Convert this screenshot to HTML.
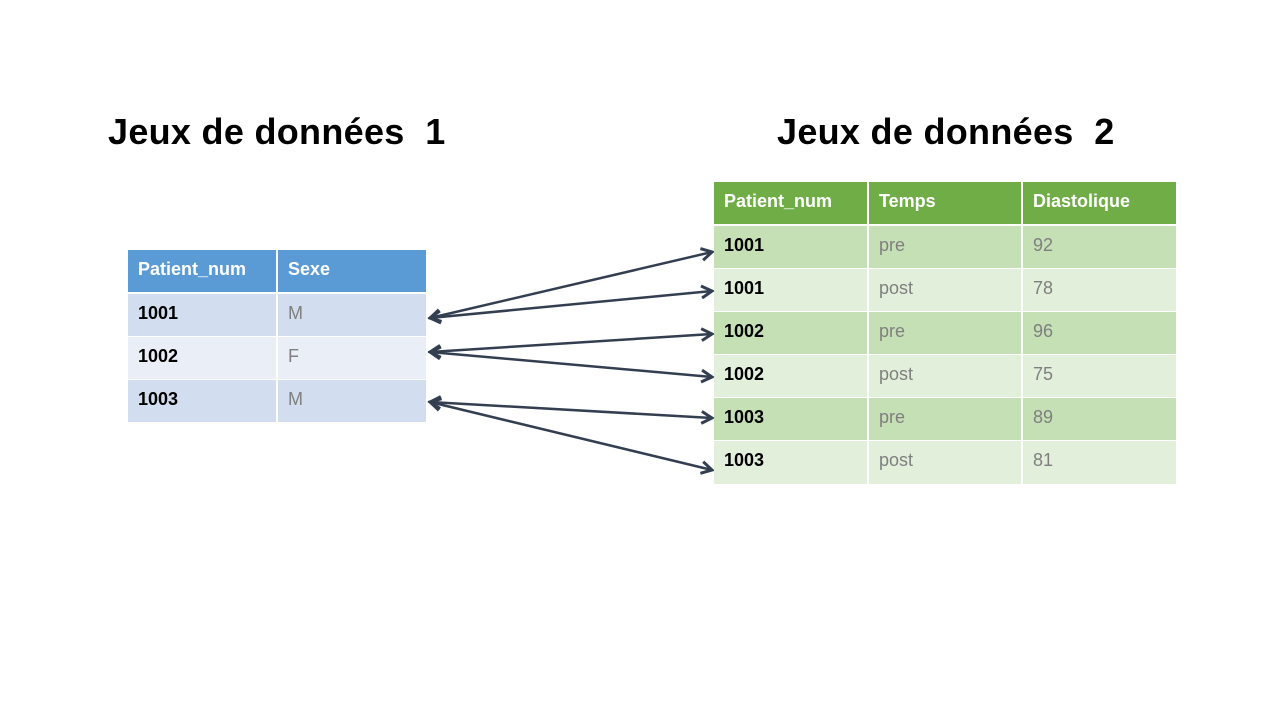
<!DOCTYPE html>
<html><head><meta charset="utf-8"><style>
body{margin:0;width:1280px;height:720px;background:#fff;position:relative;overflow:hidden;font-family:"Liberation Sans",sans-serif}
.t{position:absolute;font-weight:bold;font-size:36px;color:#000;top:111px;letter-spacing:0.3px}
.c{position:absolute;box-sizing:border-box;padding-left:10px;padding-bottom:4px;font-size:18px;display:flex;align-items:center;color:#7f7f7f}
.b{font-weight:bold;color:#000}
.h{font-weight:bold;color:#fff}
</style></head><body>
<div class="t" style="left:108px">Jeux de données&nbsp; 1</div>
<div class="t" style="left:777px">Jeux de données&nbsp; 2</div>

<div class="c h" style="left:128px;top:250px;width:148px;height:42px;background:#5B9BD5">Patient_num</div>
<div class="c h" style="left:278px;top:250px;width:148px;height:42px;background:#5B9BD5">Sexe</div>
<div class="c b" style="left:128px;top:294px;width:148px;height:42px;background:#D2DEEF">1001</div>
<div class="c" style="left:278px;top:294px;width:148px;height:42px;background:#D2DEEF">M</div>
<div class="c b" style="left:128px;top:337px;width:148px;height:42px;background:#EAEFF7">1002</div>
<div class="c" style="left:278px;top:337px;width:148px;height:42px;background:#EAEFF7">F</div>
<div class="c b" style="left:128px;top:380px;width:148px;height:42px;background:#D2DEEF">1003</div>
<div class="c" style="left:278px;top:380px;width:148px;height:42px;background:#D2DEEF">M</div>

<div class="c h" style="left:714px;top:182px;width:153px;height:42px;background:#70AD47">Patient_num</div>
<div class="c h" style="left:869px;top:182px;width:152px;height:42px;background:#70AD47">Temps</div>
<div class="c h" style="left:1023px;top:182px;width:153px;height:42px;background:#70AD47">Diastolique</div>

<div class="c b" style="left:714px;top:226px;width:153px;height:42px;background:#C5E0B4">1001</div>
<div class="c" style="left:869px;top:226px;width:152px;height:42px;background:#C5E0B4">pre</div>
<div class="c" style="left:1023px;top:226px;width:153px;height:42px;background:#C5E0B4">92</div>

<div class="c b" style="left:714px;top:269px;width:153px;height:42px;background:#E2EFDA">1001</div>
<div class="c" style="left:869px;top:269px;width:152px;height:42px;background:#E2EFDA">post</div>
<div class="c" style="left:1023px;top:269px;width:153px;height:42px;background:#E2EFDA">78</div>

<div class="c b" style="left:714px;top:312px;width:153px;height:42px;background:#C5E0B4">1002</div>
<div class="c" style="left:869px;top:312px;width:152px;height:42px;background:#C5E0B4">pre</div>
<div class="c" style="left:1023px;top:312px;width:153px;height:42px;background:#C5E0B4">96</div>

<div class="c b" style="left:714px;top:355px;width:153px;height:42px;background:#E2EFDA">1002</div>
<div class="c" style="left:869px;top:355px;width:152px;height:42px;background:#E2EFDA">post</div>
<div class="c" style="left:1023px;top:355px;width:153px;height:42px;background:#E2EFDA">75</div>

<div class="c b" style="left:714px;top:398px;width:153px;height:42px;background:#C5E0B4">1003</div>
<div class="c" style="left:869px;top:398px;width:152px;height:42px;background:#C5E0B4">pre</div>
<div class="c" style="left:1023px;top:398px;width:153px;height:42px;background:#C5E0B4">89</div>

<div class="c b" style="left:714px;top:441px;width:153px;height:43px;background:#E2EFDA">1003</div>
<div class="c" style="left:869px;top:441px;width:152px;height:43px;background:#E2EFDA">post</div>
<div class="c" style="left:1023px;top:441px;width:153px;height:43px;background:#E2EFDA">81</div>

<svg style="position:absolute;left:0;top:0" width="1280" height="720">
<defs>
<marker id="a" viewBox="0 0 10 10" refX="8.5" refY="5" markerWidth="6" markerHeight="6" orient="auto-start-reverse" markerUnits="strokeWidth">
<path d="M1.5,1 L8.5,5 L1.5,9" fill="none" stroke="#333F50" stroke-width="2"/>
</marker>
</defs>
<g stroke="#333F50" stroke-width="2.5" fill="none" marker-start="url(#a)" marker-end="url(#a)">
<line x1="430" y1="318" x2="712" y2="252"/>
<line x1="430" y1="318" x2="712" y2="291"/>
<line x1="430" y1="352" x2="712" y2="334"/>
<line x1="430" y1="352" x2="712" y2="377"/>
<line x1="430" y1="402" x2="712" y2="418"/>
<line x1="430" y1="402" x2="712" y2="470"/>
</g>
</svg>
</body></html>
